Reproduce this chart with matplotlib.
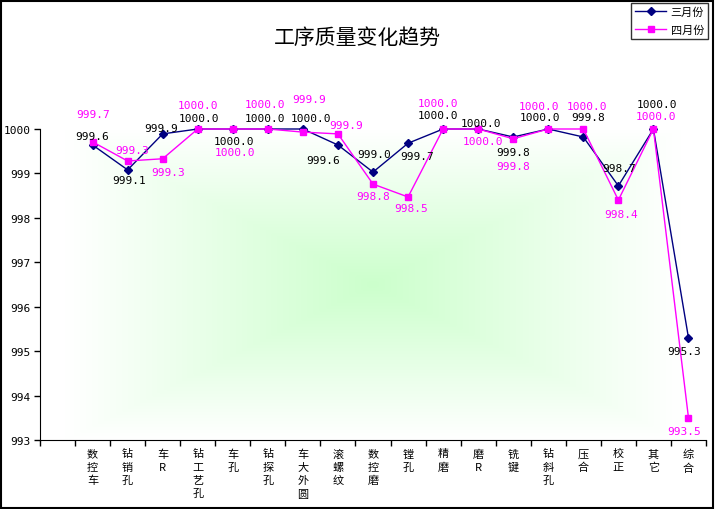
import numpy as np
import matplotlib.pyplot as plt
from matplotlib.patches import Rectangle

plt.rcParams['font.family'] = ['Noto Sans CJK SC', 'DejaVu Sans']

# data
processes = ['数控车', '钻销孔', '车R', '钻工艺孔', '车孔', '钻探孔', '车大外圆', '滚螺纹', '数控磨',
             '镗孔', '精磨', '磨R', '铣键', '钻斜孔', '压合', '校正', '其它', '综合']
march = [999.64, 999.08, 999.89, 1000.0, 1000.0, 1000.0, 1000.0, 999.64, 999.03,
         999.68, 1000.0, 1000.0, 999.82, 1000.0, 999.82, 998.72, 1000.0, 995.3]
april = [999.71, 999.28, 999.33, 1000.0, 1000.0, 1000.0, 999.93, 999.89, 998.76,
         998.47, 1000.0, 1000.0, 999.78, 1000.0, 1000.0, 998.40, 1000.0, 993.5]
yticks = [993, 994, 995, 996, 997, 998, 999, 1000]

# label offsets in pixels (dx, dy), like Excel placed them
march_off = [(0, 9), (1, -10), (-2, 6), (1, 11), (1, -12), (-3, 11), (8, 11), (-15, -15), (1, 18),
             (9, -13), (-5, 14), (3, 6), (0, -15), (-8, 12), (5, 20), (1, 18), (4, 25), (-4, -13)]
april_off = [(1, 28), (4, 11), (5, -13), (0, 24), (2, -23), (-3, 25), (6, 33), (8, 9), (0, -12),
             (3, -11), (-5, 26), (5, -12), (0, -27), (-9, 23), (4, 23), (3, -14), (3, 13), (-4, -13)]

fig = plt.figure(figsize=(7.15, 5.1), dpi=100)
fig.patches.append(Rectangle((0.001, 0.002), 0.996, 0.995, transform=fig.transFigure,
                             fill=False, edgecolor='black', linewidth=1.5))
ax = fig.add_axes([40 / 715, 1 - 441 / 510, 666 / 715, 311 / 510])

# green gradient from the centre of the plot area
u, v = np.meshgrid(np.linspace(-1, 1, 200), np.linspace(-1, 1, 200))
t = np.clip(np.maximum(np.abs(u) / 0.92, np.abs(v) / 1.0), 0, 1)
k = (1 - t) ** 1.0
img = np.ones((200, 200, 3))
img[..., 0] = 1 - k * (1 - 0.80)
img[..., 2] = 1 - k * (1 - 0.80)
ax.imshow(img, extent=[0, 1, 0, 1], transform=ax.transAxes, aspect='auto', zorder=0)

x = np.arange(len(processes)) + 1.5
ax.plot(x, march, color='#000080', marker='D', markersize=4.5, linewidth=1, label='三月份',
        clip_on=False, zorder=3)
ax.plot(x, april, color='#ff00ff', marker='s', markersize=5, linewidth=1, label='四月份',
        clip_on=False, zorder=4)

for xi, val, off in zip(x, march, march_off):
    ax.annotate('%.1f' % val, (xi, val), xytext=off, textcoords='offset pixels',
                ha='center', va='center', fontsize=8, color='black', family='DejaVu Sans Mono', zorder=5)
for xi, val, off in zip(x, april, april_off):
    ax.annotate('%.1f' % val, (xi, val), xytext=off, textcoords='offset pixels',
                ha='center', va='center', fontsize=8, color='#ff00ff', family='DejaVu Sans Mono', zorder=5)

ax.set_xlim(0, len(processes) + 1)
ax.set_ylim(993, 1000)
ax.set_yticks(yticks)
ax.set_yticklabels([str(y) for y in yticks], family='DejaVu Sans Mono', fontsize=8)
ax.set_xticks(np.arange(len(processes) + 2))
ax.set_xticklabels([])
ax.set_xticks(x, minor=True)
ax.set_xticklabels(['\n'.join(p) for p in processes], minor=True, fontsize=8, linespacing=1.4)
ax.tick_params(axis='x', which='minor', length=0, pad=6)
ax.tick_params(axis='both', which='major', length=4, width=1, color='black')
ax.tick_params(axis='y', pad=3)
ax.spines['top'].set_visible(False)
ax.spines['right'].set_visible(False)

fig.text(357 / 715, 1 - 38 / 510, '工序质量变化趋势', ha='center', va='center', fontsize=15)

leg = fig.legend(loc='upper right', bbox_to_anchor=(708 / 715, 1 - 4 / 510), fontsize=8,
                 frameon=True, fancybox=False, edgecolor='black', borderpad=0.35, borderaxespad=0,
                 handlelength=2.8, labelspacing=0.7, handletextpad=0.4)
leg.get_frame().set_linewidth(1)

fig.savefig('out.png', dpi=100)
